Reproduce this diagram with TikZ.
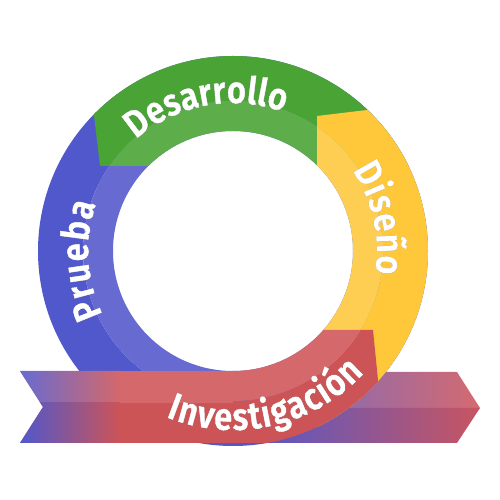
\documentclass[tikz,border=0pt]{standalone}
\usepackage{fontspec}
\newfontfamily\lab{Fira Sans}[UprightFont={* SemiBold},FakeStretch=0.86,FakeBold=1.2]
\usetikzlibrary{decorations.text,calc}
\definecolor{bdark}{HTML}{5058CC}
\definecolor{blight}{HTML}{676BD1}
\definecolor{gdark}{HTML}{49A435}
\definecolor{glight}{HTML}{5DAE4B}
\definecolor{ydark}{HTML}{FEC83A}
\definecolor{ylight}{HTML}{FECE52}
\definecolor{rdark}{HTML}{CC5457}
\definecolor{rlight}{HTML}{D4686B}
\definecolor{brtop}{HTML}{D46A70}
\definecolor{brbot}{HTML}{C85561}
\newcommand\ringfill[2]{%
  \fill[#1,even odd rule] (C) circle[radius=195] (C) circle[radius=150];
  \fill[#2,even odd rule] (C) circle[radius=150] (C) circle[radius=120];}
\newcommand\arclabel[4]{%
  \begin{scope}[shift={(1.5,-2)},opacity=0.4]
    \path[decorate,decoration={text along path,text color=black,text align={fit to path},
      text={|\lab\fontsize{38}{38}\selectfont|#4}}]
      ($(C)+(#1:#3)$) arc[start angle=#1,end angle=#2,radius=#3];
  \end{scope}
  \path[decorate,decoration={text along path,text color=white,text align={fit to path},
    text={|\lab\fontsize{38}{38}\selectfont|#4}}]
    ($(C)+(#1:#3)$) arc[start angle=#1,end angle=#2,radius=#3];}
\begin{document}
\begin{tikzpicture}[x=1pt,y=1pt]
\useasboundingbox (0,0) rectangle (500,500);
\coordinate (C) at (233,249);
% right banner (behind the ring)
\shade[left color=blight,right color=brtop] (240,128) -- (457,128) -- (480,92) -- (240,92) -- cycle;
\shade[left color=bdark,right color=brbot] (240,92) -- (480,92) -- (457,57) -- (240,57) -- cycle;
% blue ring (Prueba)
\ringfill{bdark}{blight}
% green (Desarrollo)
\begin{scope}
  \clip (85,460) -- (100,334) -- (450,334) -- (450,460) -- cycle;
  \ringfill{gdark}{glight}
\end{scope}
% yellow (Diseño)
\begin{scope}
  \clip (317,384) -- (480,403.6) -- (480,20) -- (317,20) -- cycle;
  \ringfill{ydark}{ylight}
\end{scope}
% red tail
\begin{scope}
  \clip (20,129) -- (234,129) -- (234,57) -- (20,57) -- (43,93) -- cycle;
  \fill[rdark] (20,57) rectangle (234,97);
  \fill[rlight] (20,97) rectangle (234,129);
  \shade[left color=blight,right color=rlight] (20,97) rectangle (120,129);
  \shade[left color=bdark,right color=rdark] (20,57) rectangle (120,97);
\end{scope}
% red ring part (Investigación)
\begin{scope}
  \clip (233,170) -- (373,170) -- (384.3,57) -- (233,57) -- cycle;
  \ringfill{rdark}{rlight}
\end{scope}
% labels
\arclabel{131}{70}{148}{Desarrollo}
\arclabel{34}{-9}{144}{Diseño}
\arclabel{206}{161}{145}{Prueba}
\arclabel{248}{317}{179}{Investigación}
\end{tikzpicture}
\end{document}
